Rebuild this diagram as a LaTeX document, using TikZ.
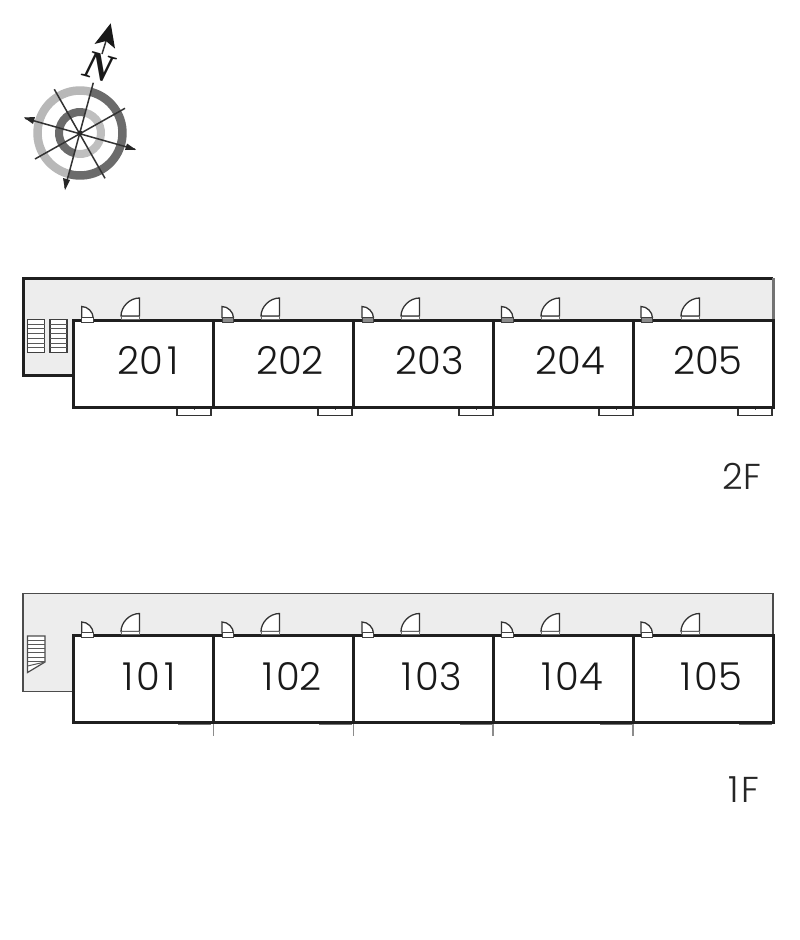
\documentclass[tikz,border=0pt]{standalone}
\usepackage{fontspec}
\setmainfont{Poppins}[UprightFont=* Light]
\newfontfamily\nfont{Liberation Serif}
\begin{document}
\begin{tikzpicture}[x=1pt,y=-1pt,
  wall/.style={draw=black!88,line width=3pt},
  thinwall/.style={draw=black!70,line width=1.6pt},
  corridor/.style={fill=black!7},
  doorline/.style={draw=black!80,line width=1.3pt},
  rung/.style={draw=black!65,line width=1pt},
  roomlabel/.style={font=\fontsize{38.5}{38.5}\selectfont,text=black!90,inner sep=0pt},
  floorlabel/.style={font=\fontsize{36}{36}\selectfont,text=black!85,inner sep=0pt},
  spoke/.style={draw=black!80,line width=1.5pt},
  tip/.style={fill=black!85,draw=none}]
\useasboundingbox (0,0) rectangle (800,940);
\fill[white] (0,0) rectangle (800,940);

% compass rings
\begin{scope}[shift={(80,133)},y=1pt]
  \draw[black!28,line width=8.5pt] (75:42.5) arc[start angle=75,end angle=255,radius=42.5pt];
  \draw[black!58,line width=8.5pt] (75:42.5) arc[start angle=75,end angle=-105,radius=42.5pt];
  \draw[black!58,line width=8pt] (75:21) arc[start angle=75,end angle=255,radius=21pt];
  \draw[black!25,line width=8pt] (75:21) arc[start angle=75,end angle=-105,radius=21pt];
\end{scope}
\coordinate (c1a) at (93.3,82.7); \coordinate (c1b) at (65,188);
\coordinate (c2a) at (25,118.3);  \coordinate (c2b) at (135,149.3);
\coordinate (c3a) at (54.3,89.3); \coordinate (c3b) at (105,178.3);
\coordinate (c4a) at (35,159);    \coordinate (c4b) at (125,108.3);
\draw[spoke] (c1a) -- (c1b);
\draw[spoke] (c2a) -- (c2b);
\draw[spoke] (c3a) -- (c3b);
\draw[spoke] (c4a) -- (c4b);
\fill[tip] (80,133) circle (2.5);
\fill[tip] (65,190) -- (63,178) -- (70,180) -- cycle;
\fill[tip] (24,117.5) -- (35,117) -- (33,124) -- cycle;
\fill[tip] (136,149.8) -- (125,150) -- (127,143.5) -- cycle;
% north arrow
\draw[black!80,line width=1.5pt] (106,41) -- (102,54);
\fill[black!90] (110.7,23.3) -- (94.5,44) -- (106,41) -- (115,48.5) -- cycle;
\node[inner sep=0pt,text=black!90,rotate=-16,font=\nfont\bfseries\itshape\fontsize{40}{40}\selectfont] (north) at (99,67) {N};

% floors
\foreach \top/\mid/\ext in {278/320/375,593.5/635.5/691.5}{
  \fill[corridor] (23,\top) -- (773,\top) -- (773,\mid) -- (73,\mid) -- (73,\ext) -- (23,\ext) -- cycle;
}
% corridor outlines
\draw[draw=black!88,line width=3pt] (73,375) -- (23,375) -- (23,278) -- (773,278);
\draw[draw=black!55,line width=3pt] (773,278) -- (773,320);
\draw[thinwall] (73,691.5) -- (23,691.5) -- (23,593.5) -- (773,593.5) -- (773,635.5);

% 2F balconies
\foreach \bx in {177,318,459,599,738}{
  \draw[draw=black!80,fill=white,line width=1.7pt] (\bx,407) rectangle (\bx+34,415.5);
  \draw[black!70,line width=1pt] (\bx+17,407) -- (\bx+17,410);
}
% 1F balconies (dark strip) and ticks
\foreach \bx in {178,319,460,600,739}{
  \draw[black!55,line width=2pt] (\bx,723.5) -- (\bx+33,723.5);
}
\foreach \dx in {213.5,353.5,493,633}{
  \draw[black!45,line width=1.4pt] (\dx,722.5) -- (\dx,736);
}

% rooms
\foreach \t/\b in {320/407,635.5/722.5}{
  \draw[wall] (73,\t) rectangle (773,\b);
  \foreach \dx in {213.5,353.5,493,633}{
    \draw[wall] (\dx,\t) -- (\dx,\b);
  }
}

% doors
\foreach \t/\gfirst/\grest in {320/0/45,635.5/0/0}{
  \foreach \sx/\bx/\first in {81.7/121/1,222/261/0,362/401/0,501.5/541/0,641/681/0}{
    \pgfmathsetmacro{\g}{\first==1 ? \gfirst : \grest}
    \draw[doorline,fill=white] (\sx,\t-2) -- (\sx,\t-13.5) .. controls (\sx+6,\t-13.5) and (\sx+11.5,\t-8) .. (\sx+11.5,\t-2);
    \draw[draw=black!75,fill=black!\g,line width=1pt] (\sx,\t-3) rectangle (\sx+11.5,\t+2);
    \draw[doorline,fill=white] (\bx+18.5,\t-4) -- (\bx+18.5,\t-22) .. controls (\bx+8.5,\t-22) and (\bx,\t-13) .. (\bx,\t-4) -- cycle;
    \draw[draw=black!60,fill=white,line width=1pt] (\bx,\t-4) rectangle (\bx+18.5,\t-1);
  }
}

% 2F stairs
\foreach \sx in {27.5,50}{
  \draw[draw=black!75,fill=white,line width=1.2pt] (\sx,319.5) rectangle (\sx+17,352.5);
  \foreach \k in {1,...,6}{
    \draw[rung] (\sx,319.5+\k*4.7) -- (\sx+17,319.5+\k*4.7);
  }
}
% 1F stairs
\draw[draw=black!70,fill=white,line width=1.2pt] (27.5,636) -- (45,636) -- (45,662) -- (27.5,672.5) -- cycle;
\foreach \k in {1,...,6}{
  \draw[rung] (27.5,636+\k*4.2) -- (45,636+\k*4.2);
}
\draw[rung] (27.5,666) -- (45,662);

% labels
\node[roomlabel] (r201) at (148,360.5) {20\kern4pt 1};
\node[roomlabel] (r202) at (290,360.5) {202};
\node[roomlabel] (r203) at (430,360.5) {203};
\node[roomlabel] (r204) at (570,360.5) {204};
\node[roomlabel] (r205) at (708,360.5) {205};
\node[roomlabel] (r101) at (149,676.5) {1\kern3pt 0\kern4pt 1};
\node[roomlabel] (r102) at (292,676.5) {1\kern3pt 02};
\node[roomlabel] (r103) at (432,676.5) {1\kern3pt 03};
\node[roomlabel] (r104) at (572,676.5) {1\kern3pt 04};
\node[roomlabel] (r105) at (711,676.5) {1\kern3pt 05};
\node[floorlabel] (f2) at (742,476) {2F};
\node[floorlabel] (f1) at (744,790) {1\kern3pt F};
\end{tikzpicture}
\end{document}
